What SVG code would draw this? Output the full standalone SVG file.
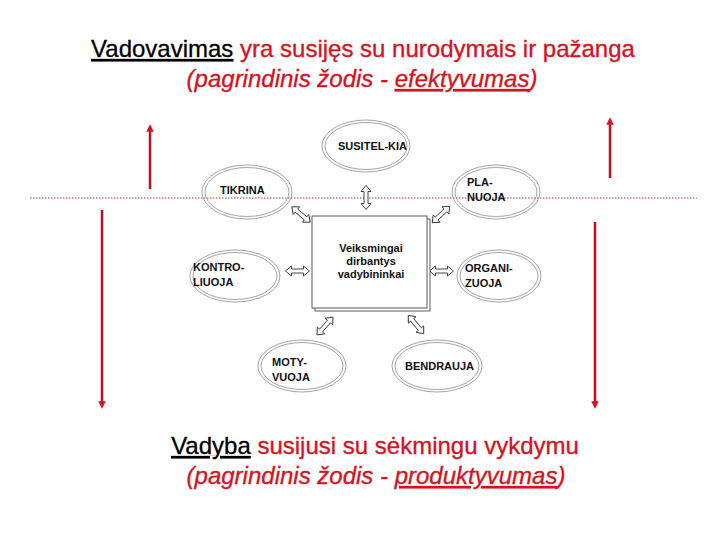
<svg xmlns="http://www.w3.org/2000/svg" xmlns:xlink="http://www.w3.org/1999/xlink" width="720" height="540" viewBox="0 0 720 540">
<style>
.t{font-family:"Liberation Sans",Arial,sans-serif;font-size:24px;fill:#d81020;stroke:#d81020;stroke-width:0.3}
.k{fill:#000;stroke:#000}
.n{font-family:"Liberation Sans",Arial,sans-serif;font-size:11px;font-weight:bold;fill:#111}
.e{fill:none;stroke:#666;stroke-width:0.6}
.da{fill:#fff;stroke:#333;stroke-width:0.9}
.ra{stroke:#c0101a;stroke-width:2.5;fill:none}
</style>
<defs>
<path id="dbl" class="da" d="M-12,0 L-6,-5 L-6,-2 L6,-2 L6,-5 L12,0 L6,5 L6,2 L-6,2 L-6,5 Z"/>
<marker id="rh" viewBox="0 0 10 10" refX="5" refY="5" markerWidth="3" markerHeight="3" orient="auto-start-reverse"><path d="M0,0 L10,5 L0,10 Z" fill="#d81020"/></marker>
</defs>
<rect width="720" height="540" fill="#fff"/>
<text x="363" y="57" text-anchor="middle" class="t"><tspan class="k" text-decoration="underline">Vadovavimas</tspan> yra susijęs su nurodymais ir pažanga</text>
<text x="362" y="87" text-anchor="middle" class="t" font-style="italic">(pagrindinis žodis - <tspan text-decoration="underline">efektyvumas</tspan>)</text>
<line x1="30" y1="198" x2="697" y2="198" stroke="#a04040" stroke-width="1" stroke-dasharray="1.5,1.5"/>
<g id="redarrows">
<line class="ra" x1="150" y1="189" x2="150" y2="128" marker-end="url(#rh)"/>
<line class="ra" x1="102" y1="210" x2="102" y2="405" marker-end="url(#rh)"/>
<line class="ra" x1="610" y1="178" x2="610" y2="121" marker-end="url(#rh)"/>
<line class="ra" x1="595" y1="222" x2="595" y2="405" marker-end="url(#rh)"/>
</g>
<g id="connectors">
<use xlink:href="#dbl" transform="translate(366,197.5) rotate(90)"/>
<use xlink:href="#dbl" transform="translate(301,214.5) rotate(40)"/>
<use xlink:href="#dbl" transform="translate(441,214.5) rotate(-43)"/>
<use xlink:href="#dbl" transform="translate(297.5,271)"/>
<use xlink:href="#dbl" transform="translate(441.5,271)"/>
<use xlink:href="#dbl" transform="translate(325,326) rotate(-48)"/>
<use xlink:href="#dbl" transform="translate(416,324.5) rotate(50)"/>
</g>
<g id="center">
<rect x="315" y="219" width="115" height="92" fill="#fff" stroke="#333" stroke-width="0.8"/>
<rect x="312" y="216" width="115" height="92" fill="#fff" stroke="#333" stroke-width="0.8"/>
<text class="n" text-anchor="middle" font-size="12"><tspan x="371" y="252">Veiksmingai</tspan><tspan x="371" y="265">dirbantys</tspan><tspan x="371" y="278">vadybininkai</tspan></text>
</g>
<g id="susitelkia"><ellipse class="e" cx="366" cy="146" rx="44" ry="26"/><ellipse class="e" cx="366" cy="146" rx="41" ry="23.5"/><text class="n" x="338" y="150">SUSITEL-KIA</text></g>
<g id="tikrina"><ellipse class="e" cx="247" cy="192" rx="45" ry="27"/><ellipse class="e" cx="247" cy="192" rx="42" ry="24.5"/><text class="n" x="220" y="194">TIKRINA</text></g>
<g id="planuoja"><ellipse class="e" cx="496" cy="192" rx="44" ry="27"/><ellipse class="e" cx="496" cy="192" rx="41" ry="24.5"/><text class="n"><tspan x="467" y="186">PLA-</tspan><tspan x="467" y="201">NUOJA</tspan></text></g>
<g id="kontroliuoja"><ellipse class="e" cx="235" cy="276" rx="45" ry="26"/><ellipse class="e" cx="235" cy="276" rx="42" ry="23.5"/><text class="n"><tspan x="193" y="271">KONTRO-</tspan><tspan x="193" y="286">LIUOJA</tspan></text></g>
<g id="organizuoja"><ellipse class="e" cx="499" cy="276" rx="42" ry="26"/><ellipse class="e" cx="499" cy="276" rx="39" ry="23.5"/><text class="n"><tspan x="465" y="272">ORGANI-</tspan><tspan x="465" y="287">ZUOJA</tspan></text></g>
<g id="motyvuoja"><ellipse class="e" cx="302" cy="366" rx="44" ry="26"/><ellipse class="e" cx="302" cy="366" rx="41" ry="23.5"/><text class="n"><tspan x="272" y="366">MOTY-</tspan><tspan x="272" y="381">VUOJA</tspan></text></g>
<g id="bendrauja"><ellipse class="e" cx="437" cy="366" rx="45" ry="26"/><ellipse class="e" cx="437" cy="366" rx="42" ry="23.5"/><text class="n" x="405" y="370">BENDRAUJA</text></g>
<text x="375" y="454" text-anchor="middle" class="t"><tspan class="k" text-decoration="underline">Vadyba</tspan> susijusi su sėkmingu vykdymu</text>
<text x="376" y="484" text-anchor="middle" class="t" font-style="italic">(pagrindinis žodis - <tspan text-decoration="underline">produktyvumas</tspan>)</text>
</svg>
